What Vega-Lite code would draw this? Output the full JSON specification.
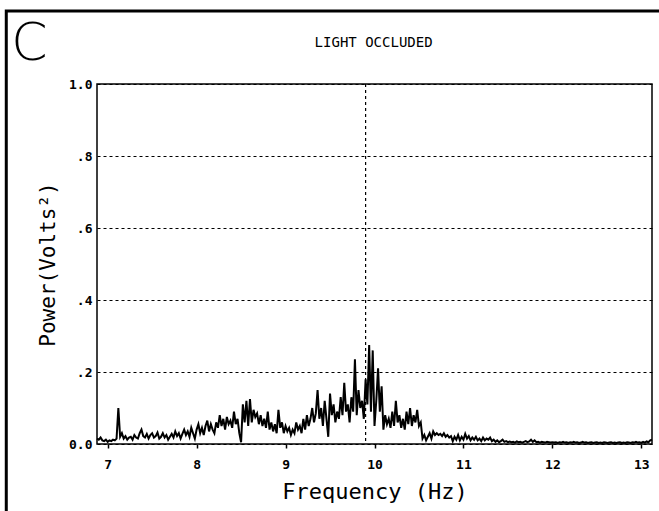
{
  "$schema": "https://vega.github.io/schema/vega-lite/v6.json",
  "autosize": "none",
  "width": 555,
  "height": 360,
  "padding": {"left": 97, "top": 84, "right": 7, "bottom": 67},
  "background": "white",
  "config": {
    "view": {"stroke": "black", "strokeWidth": 1.5},
    "axis": {"labelFont": "DejaVu Sans Mono", "titleFont": "DejaVu Sans Mono", "labelColor": "black", "titleColor": "black", "domain": false, "labelFontWeight": "bold"}
  },
  "datasets": {
    "spec": [
      {"f":6.88,"p":0.015},{"f":6.90,"p":0.012},{"f":6.92,"p":0.018},{"f":6.94,"p":0.010},{"f":6.96,"p":0.008},{"f":6.98,"p":0.012},
      {"f":7.00,"p":0.006},{"f":7.02,"p":0.010},{"f":7.04,"p":0.008},{"f":7.06,"p":0.012},{"f":7.08,"p":0.010},{"f":7.10,"p":0.015},
      {"f":7.12,"p":0.100},{"f":7.14,"p":0.020},{"f":7.16,"p":0.030},{"f":7.18,"p":0.015},{"f":7.20,"p":0.022},{"f":7.22,"p":0.012},
      {"f":7.24,"p":0.018},{"f":7.26,"p":0.020},{"f":7.28,"p":0.012},{"f":7.30,"p":0.025},{"f":7.32,"p":0.018},{"f":7.34,"p":0.015},
      {"f":7.36,"p":0.030},{"f":7.38,"p":0.040},{"f":7.40,"p":0.022},{"f":7.42,"p":0.018},{"f":7.44,"p":0.028},{"f":7.46,"p":0.015},
      {"f":7.48,"p":0.025},{"f":7.50,"p":0.030},{"f":7.52,"p":0.018},{"f":7.54,"p":0.022},{"f":7.56,"p":0.032},{"f":7.58,"p":0.015},
      {"f":7.60,"p":0.020},{"f":7.62,"p":0.030},{"f":7.64,"p":0.018},{"f":7.66,"p":0.025},{"f":7.68,"p":0.012},{"f":7.70,"p":0.020},
      {"f":7.72,"p":0.028},{"f":7.74,"p":0.018},{"f":7.76,"p":0.035},{"f":7.78,"p":0.022},{"f":7.80,"p":0.030},{"f":7.82,"p":0.015},
      {"f":7.84,"p":0.028},{"f":7.86,"p":0.040},{"f":7.88,"p":0.025},{"f":7.90,"p":0.035},{"f":7.92,"p":0.020},{"f":7.94,"p":0.045},
      {"f":7.96,"p":0.030},{"f":7.98,"p":0.015},{"f":8.00,"p":0.040},{"f":8.02,"p":0.055},{"f":8.04,"p":0.030},{"f":8.06,"p":0.045},
      {"f":8.08,"p":0.025},{"f":8.10,"p":0.050},{"f":8.12,"p":0.065},{"f":8.14,"p":0.035},{"f":8.16,"p":0.055},{"f":8.18,"p":0.040},
      {"f":8.20,"p":0.030},{"f":8.22,"p":0.060},{"f":8.24,"p":0.045},{"f":8.26,"p":0.080},{"f":8.28,"p":0.050},{"f":8.30,"p":0.070},
      {"f":8.32,"p":0.040},{"f":8.34,"p":0.075},{"f":8.36,"p":0.055},{"f":8.38,"p":0.065},{"f":8.40,"p":0.045},{"f":8.42,"p":0.090},
      {"f":8.44,"p":0.055},{"f":8.46,"p":0.070},{"f":8.48,"p":0.030},{"f":8.50,"p":0.005},{"f":8.52,"p":0.110},{"f":8.54,"p":0.060},
      {"f":8.56,"p":0.120},{"f":8.58,"p":0.050},{"f":8.60,"p":0.125},{"f":8.62,"p":0.060},{"f":8.64,"p":0.095},{"f":8.66,"p":0.075},
      {"f":8.68,"p":0.085},{"f":8.70,"p":0.055},{"f":8.72,"p":0.080},{"f":8.74,"p":0.050},{"f":8.76,"p":0.070},{"f":8.78,"p":0.045},
      {"f":8.80,"p":0.090},{"f":8.82,"p":0.040},{"f":8.84,"p":0.060},{"f":8.86,"p":0.035},{"f":8.88,"p":0.055},{"f":8.90,"p":0.030},
      {"f":8.92,"p":0.095},{"f":8.94,"p":0.045},{"f":8.96,"p":0.060},{"f":8.98,"p":0.030},{"f":9.00,"p":0.050},{"f":9.02,"p":0.035},
      {"f":9.04,"p":0.045},{"f":9.06,"p":0.025},{"f":9.08,"p":0.040},{"f":9.10,"p":0.030},{"f":9.12,"p":0.060},{"f":9.14,"p":0.040},
      {"f":9.16,"p":0.050},{"f":9.18,"p":0.030},{"f":9.20,"p":0.070},{"f":9.22,"p":0.040},{"f":9.24,"p":0.080},{"f":9.26,"p":0.050},
      {"f":9.28,"p":0.070},{"f":9.30,"p":0.100},{"f":9.32,"p":0.060},{"f":9.34,"p":0.085},{"f":9.36,"p":0.150},{"f":9.38,"p":0.070},
      {"f":9.40,"p":0.100},{"f":9.42,"p":0.050},{"f":9.44,"p":0.120},{"f":9.46,"p":0.070},{"f":9.48,"p":0.020},{"f":9.50,"p":0.140},
      {"f":9.52,"p":0.080},{"f":9.54,"p":0.110},{"f":9.56,"p":0.060},{"f":9.58,"p":0.090},{"f":9.60,"p":0.070},{"f":9.62,"p":0.130},
      {"f":9.64,"p":0.080},{"f":9.66,"p":0.170},{"f":9.68,"p":0.090},{"f":9.70,"p":0.110},{"f":9.72,"p":0.060},{"f":9.74,"p":0.130},
      {"f":9.76,"p":0.090},{"f":9.78,"p":0.235},{"f":9.80,"p":0.080},{"f":9.82,"p":0.150},{"f":9.84,"p":0.100},{"f":9.86,"p":0.120},
      {"f":9.88,"p":0.070},{"f":9.90,"p":0.180},{"f":9.92,"p":0.110},{"f":9.94,"p":0.275},{"f":9.96,"p":0.090},{"f":9.98,"p":0.260},
      {"f":10.00,"p":0.050},{"f":10.02,"p":0.120},{"f":10.04,"p":0.210},{"f":10.06,"p":0.090},{"f":10.08,"p":0.160},{"f":10.10,"p":0.040},
      {"f":10.12,"p":0.080},{"f":10.14,"p":0.055},{"f":10.16,"p":0.070},{"f":10.18,"p":0.045},{"f":10.20,"p":0.090},{"f":10.22,"p":0.050},
      {"f":10.24,"p":0.120},{"f":10.26,"p":0.060},{"f":10.28,"p":0.080},{"f":10.30,"p":0.045},{"f":10.32,"p":0.070},{"f":10.34,"p":0.040},
      {"f":10.36,"p":0.090},{"f":10.38,"p":0.055},{"f":10.40,"p":0.100},{"f":10.42,"p":0.050},{"f":10.44,"p":0.080},{"f":10.46,"p":0.060},
      {"f":10.48,"p":0.095},{"f":10.50,"p":0.050},{"f":10.52,"p":0.060},{"f":10.54,"p":0.015},{"f":10.56,"p":0.025},{"f":10.58,"p":0.010},
      {"f":10.60,"p":0.020},{"f":10.62,"p":0.030},{"f":10.64,"p":0.015},{"f":10.66,"p":0.035},{"f":10.68,"p":0.025},{"f":10.70,"p":0.030},
      {"f":10.72,"p":0.025},{"f":10.74,"p":0.028},{"f":10.76,"p":0.022},{"f":10.78,"p":0.030},{"f":10.80,"p":0.020},{"f":10.82,"p":0.025},
      {"f":10.84,"p":0.018},{"f":10.86,"p":0.022},{"f":10.88,"p":0.008},{"f":10.90,"p":0.020},{"f":10.92,"p":0.012},{"f":10.94,"p":0.025},
      {"f":10.96,"p":0.010},{"f":10.98,"p":0.020},{"f":11.00,"p":0.012},{"f":11.02,"p":0.028},{"f":11.04,"p":0.015},{"f":11.06,"p":0.022},
      {"f":11.08,"p":0.010},{"f":11.10,"p":0.018},{"f":11.12,"p":0.012},{"f":11.14,"p":0.020},{"f":11.16,"p":0.010},{"f":11.18,"p":0.015},
      {"f":11.20,"p":0.008},{"f":11.22,"p":0.018},{"f":11.24,"p":0.010},{"f":11.26,"p":0.015},{"f":11.28,"p":0.012},{"f":11.30,"p":0.018},
      {"f":11.32,"p":0.008},{"f":11.34,"p":0.012},{"f":11.36,"p":0.006},{"f":11.38,"p":0.010},{"f":11.40,"p":0.005},{"f":11.42,"p":0.008},
      {"f":11.44,"p":0.012},{"f":11.46,"p":0.006},{"f":11.48,"p":0.008},{"f":11.50,"p":0.005},{"f":11.52,"p":0.007},{"f":11.54,"p":0.005},
      {"f":11.56,"p":0.006},{"f":11.58,"p":0.004},{"f":11.60,"p":0.007},{"f":11.62,"p":0.005},{"f":11.64,"p":0.006},{"f":11.66,"p":0.004},
      {"f":11.68,"p":0.006},{"f":11.70,"p":0.008},{"f":11.72,"p":0.005},{"f":11.74,"p":0.007},{"f":11.76,"p":0.012},{"f":11.78,"p":0.006},
      {"f":11.80,"p":0.010},{"f":11.82,"p":0.005},{"f":11.84,"p":0.006},{"f":11.86,"p":0.004},{"f":11.88,"p":0.006},{"f":11.90,"p":0.005},
      {"f":11.92,"p":0.004},{"f":11.94,"p":0.006},{"f":11.96,"p":0.005},{"f":11.98,"p":0.004},{"f":12.00,"p":0.005},{"f":12.02,"p":0.004},
      {"f":12.04,"p":0.005},{"f":12.06,"p":0.003},{"f":12.08,"p":0.005},{"f":12.10,"p":0.004},{"f":12.12,"p":0.006},{"f":12.14,"p":0.004},
      {"f":12.16,"p":0.005},{"f":12.18,"p":0.003},{"f":12.20,"p":0.005},{"f":12.22,"p":0.004},{"f":12.24,"p":0.006},{"f":12.26,"p":0.004},
      {"f":12.28,"p":0.005},{"f":12.30,"p":0.003},{"f":12.32,"p":0.004},{"f":12.34,"p":0.006},{"f":12.36,"p":0.004},{"f":12.38,"p":0.005},
      {"f":12.40,"p":0.003},{"f":12.42,"p":0.004},{"f":12.44,"p":0.005},{"f":12.46,"p":0.003},{"f":12.48,"p":0.004},{"f":12.50,"p":0.005},
      {"f":12.52,"p":0.003},{"f":12.54,"p":0.004},{"f":12.56,"p":0.003},{"f":12.58,"p":0.005},{"f":12.60,"p":0.004},{"f":12.62,"p":0.003},
      {"f":12.64,"p":0.004},{"f":12.66,"p":0.005},{"f":12.68,"p":0.003},{"f":12.70,"p":0.004},{"f":12.72,"p":0.003},{"f":12.74,"p":0.004},
      {"f":12.76,"p":0.005},{"f":12.78,"p":0.003},{"f":12.80,"p":0.004},{"f":12.82,"p":0.003},{"f":12.84,"p":0.005},{"f":12.86,"p":0.004},
      {"f":12.88,"p":0.003},{"f":12.90,"p":0.005},{"f":12.92,"p":0.004},{"f":12.94,"p":0.006},{"f":12.96,"p":0.004},{"f":12.98,"p":0.005},
      {"f":13.00,"p":0.003},{"f":13.02,"p":0.006},{"f":13.04,"p":0.004},{"f":13.06,"p":0.007},{"f":13.08,"p":0.005},{"f":13.10,"p":0.010},
      {"f":13.12,"p":0.012}
    ],
    "marker": [{"f": 9.9}],
    "labels": [
      {"label": "C", "kind": "panel"},
      {"label": "LIGHT OCCLUDED", "kind": "title"}
    ]
  },
  "layer": [
    {
      "data": {"name": "spec"},
      "mark": {"type": "line", "color": "black", "strokeWidth": 2, "interpolate": "linear"},
      "encoding": {
        "x": {"field": "f", "type": "quantitative", "scale": {"domain": [6.88, 13.12], "nice": false, "zero": false},
              "axis": {"values": [7, 8, 9, 10, 11, 12, 13], "format": "d", "grid": false, "ticks": true, "tickSize": 4, "tickColor": "black", "tickWidth": 1.5,
                       "labelFontSize": 13, "labelPadding": 10, "title": "Frequency (Hz)", "titleFontSize": 22, "titleFontWeight": "normal", "titlePadding": 10}},
        "y": {"field": "p", "type": "quantitative", "scale": {"domain": [0, 1], "nice": false},
              "axis": {"values": [0, 0.2, 0.4, 0.6, 0.8, 1.0], "grid": true, "gridColor": "black", "gridDash": [3, 3], "gridWidth": 1.2, "ticks": false,
                       "labelFontSize": 13, "labelPadding": 5,
                       "labelExpr": "datum.value == 0 ? '0.0' : datum.value == 1 ? '1.0' : replace(format(datum.value, '.1f'), '0.', '.')",
                       "title": "Power(Volts²)", "titleFontSize": 21, "titleFontWeight": "normal", "titlePadding": 10}}
      }
    },
    {
      "data": {"name": "marker"},
      "mark": {"type": "rule", "color": "black", "strokeDash": [3, 3], "strokeWidth": 1.2},
      "encoding": {"x": {"field": "f", "type": "quantitative"}}
    },
    {
      "data": {"name": "labels"},
      "transform": [{"filter": "datum.kind == 'panel'"}],
      "mark": {"type": "text", "font": "DejaVu Sans", "fontSize": 52, "fontWeight": 300, "align": "center", "baseline": "middle", "clip": false, "color": "black"},
      "encoding": {"x": {"datum": 6.12}, "y": {"datum": 1.11}, "text": {"field": "label"}}
    },
    {
      "data": {"name": "labels"},
      "transform": [{"filter": "datum.kind == 'title'"}],
      "mark": {"type": "text", "font": "DejaVu Sans Mono", "fontSize": 14, "align": "center", "baseline": "middle", "clip": false, "color": "black"},
      "encoding": {"x": {"datum": 9.99}, "y": {"datum": 1.113}, "text": {"field": "label"}}
    },
    {
      "data": {"values": [{"k": "frame"}]},
      "mark": {"type": "rect", "fill": null, "fillOpacity": 0, "stroke": "black", "strokeWidth": 3, "clip": false},
      "encoding": {"x": {"datum": 5.86}, "x2": {"datum": 13.35}, "y": {"datum": 1.203}, "y2": {"datum": -0.25}}
    }
  ]
}
